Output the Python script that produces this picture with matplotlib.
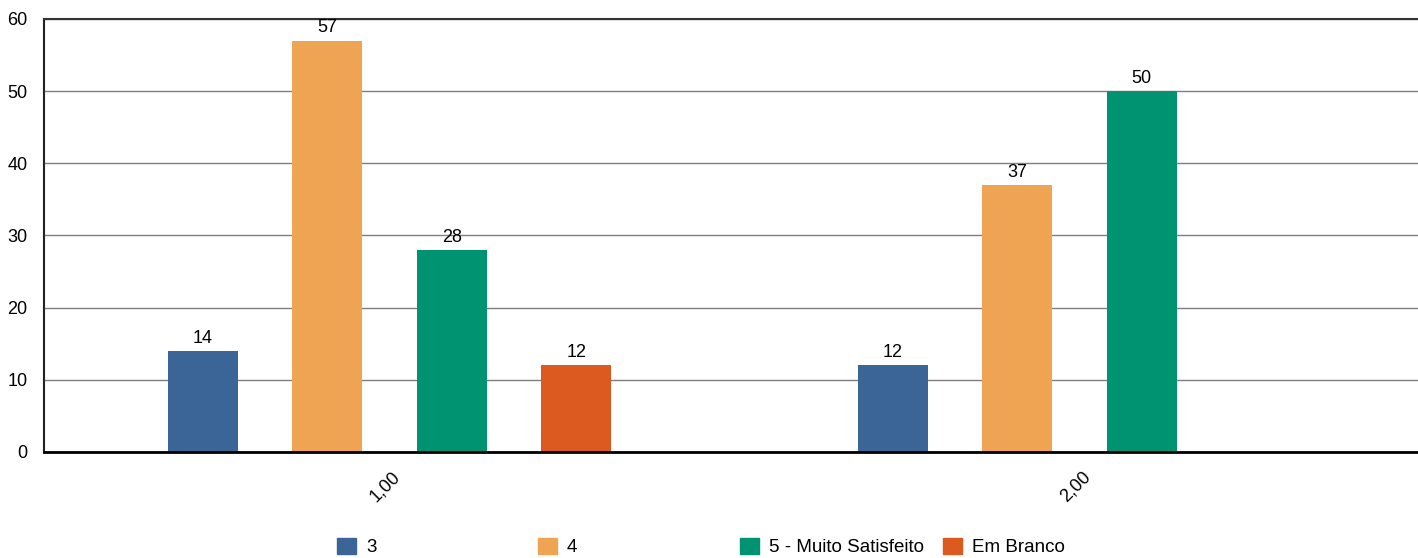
import numpy as np
import matplotlib.pyplot as plt
from matplotlib.patches import Patch

plt.rcParams['font.family'] = ['Liberation Sans', 'DejaVu Sans']
plt.rcParams['font.size'] = 13

categories = ['1,00', '2,00']
series = ['3', '4', '5 - Muito Satisfeito', 'Em Branco']
values = [
    [14, 12],
    [57, 37],
    [28, 50],
    [12, np.nan],
]
colors = ['#3b6597', '#eea453', '#009371', '#dc5a20']

fig = plt.figure(figsize=(14.18, 5.58), dpi=100)
ax = fig.add_axes([0.031, 0.19, 0.969, 0.776])

x = np.arange(len(categories))
slot = 0.1804
width = 0.1014
for i, (name, vals) in enumerate(zip(series, values)):
    pos = x + (i - 1.5) * slot
    bars = ax.bar(pos, vals, width, color=colors[i], zorder=3, label=name)
    for b, v in zip(bars, vals):
        if not np.isnan(v):
            ax.text(b.get_x() + b.get_width() / 2, v + 0.6, f"{int(v)}",
                    ha='center', va='bottom', fontsize=13, zorder=4)

ax.set_ylim(0, 60)
ax.set_xlim(-0.5007, 1.4906)
ax.set_yticks(range(0, 61, 10))
ax.yaxis.grid(True, color='#7f7f7f', linewidth=1, zorder=1)
ax.set_xticks(x - 0.006)
ax.set_xticklabels(categories, rotation=45, ha='center', va='top')
ax.tick_params(axis='both', length=0, labelsize=13)
ax.tick_params(axis='y', pad=12)
ax.tick_params(axis='x', pad=12)

ax.spines['right'].set_visible(False)
ax.spines['top'].set_color('#333333')
ax.spines['top'].set_linewidth(1.5)
ax.spines['left'].set_color('#222222')
ax.spines['left'].set_linewidth(1.5)
ax.spines['bottom'].set_color('black')
ax.spines['bottom'].set_linewidth(2)
ax.spines['bottom'].set_zorder(5)

legend_x = [337, 538, 740, 943]
for i, name in enumerate(series):
    fig.legend(handles=[Patch(color=colors[i])], labels=[name],
               loc='center left', bbox_to_anchor=(legend_x[i] / 1418, 0.0197),
               frameon=False, handlelength=1.0, handleheight=1.0,
               handletextpad=0.55, borderpad=0, borderaxespad=0, fontsize=13.5)

fig.savefig('out.png', dpi=100)
